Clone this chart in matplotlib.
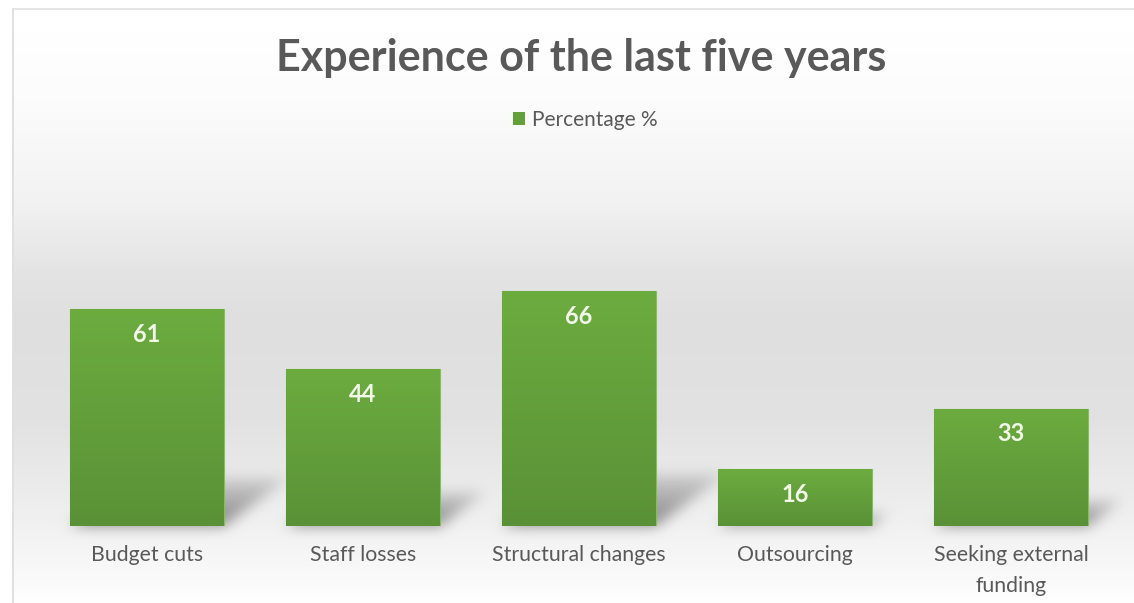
import numpy as np
import matplotlib
matplotlib.use("Agg")
import matplotlib.pyplot as plt
from matplotlib.path import Path
from matplotlib.colors import LinearSegmentedColormap
from matplotlib.patches import Patch

# ---- data -------------------------------------------------------------
categories = ["Budget cuts", "Staff losses", "Structural changes",
              "Outsourcing", "Seeking external\nfunding"]
percentages = [61, 44, 66, 16, 33]
series_name = "Percentage %"
chart_title = "Experience of the last five years"

# ---- figure -----------------------------------------------------------
W, H, DPI = 1134, 603, 100
plt.rcParams['font.family'] = ['Lato', 'DejaVu Sans']
TEXT = '#595959'

fig = plt.figure(figsize=(W / DPI, H / DPI), dpi=DPI)
fig.patch.set_facecolor('white')

# background axes in pixel units (origin bottom-left)
bg = fig.add_axes([0, 0, 1, 1], zorder=0)
bg.set_xlim(0, W)
bg.set_ylim(0, H)
bg.axis('off')

# main plotting axes
ax = fig.add_axes([39 / W, 77 / H, 1080 / W, 249 / H], zorder=2)
ax.patch.set_alpha(0)
x = np.arange(len(categories))
green_mid = '#63a03a'
bars = ax.bar(x, percentages, width=0.71, color=green_mid,
              edgecolor='#84bf5a', linewidth=0.8, zorder=2)

# vertical gradient fill on each bar (lighter at the top)
grad = np.linspace(0, 1, 256).reshape(-1, 1)
gcmap = LinearSegmentedColormap.from_list('bar', ['#5a9137', '#6cac3f'])
for rect in bars:
    x0, w, h = rect.get_x(), rect.get_width(), rect.get_height()
    im = ax.imshow(grad, extent=[x0, x0 + w, 0, h], origin='lower',
                   cmap=gcmap, aspect='auto', zorder=2.1)
    im.set_clip_path(rect)

ax.set_xlim(-0.5, len(categories) - 0.5)
ax.set_ylim(0, 70)
for s in ax.spines.values():
    s.set_visible(False)
ax.set_yticks([])
ax.set_xticks(x, categories)
ax.tick_params(axis='x', length=0, pad=14, labelsize=15.3, labelcolor=TEXT)
for lbl in ax.get_xticklabels():
    lbl.set_linespacing(1.65)

# value labels inside the bars
for rect, v in zip(bars, percentages):
    ax.annotate(f"{v}", (rect.get_x() + rect.get_width() / 2, v),
                xytext=(0, -25), textcoords='offset pixels',
                ha='center', va='center', fontsize=17, fontweight='bold',
                color='#f1f8e9', zorder=3)

# ---- background: soft vertical gradient plus perspective bar shadows ----
rows_from_top = H - 1 - np.arange(H)
stop_y = [0, 30, 100, 200, 270, 320, 420, 520, 590, 603]
stop_v = [255, 255, 252, 242, 228, 223, 226, 240, 252, 255]
col = np.interp(rows_from_top, stop_y, stop_v) / 255.0
img = np.repeat(col[:, None], W, axis=1)

yy, xx = np.mgrid[0:H, 0:W]
pts = np.c_[xx.ravel() + 0.5, yy.ravel() + 0.5]
shadow = np.zeros((H, W))
for rect in bars:
    xl, yb = ax.transData.transform((rect.get_x(), 0))
    xr, yt = ax.transData.transform((rect.get_x() + rect.get_width(),
                                     rect.get_height()))
    hp = yt - yb
    dx, dy = 0.30 * hp, 0.22 * hp
    poly = Path([(xl, yb), (xr, yb), (xr + dx, yb + dy), (xl + dx, yb + dy),
                 (xl, yb)])
    inside = poly.contains_points(pts).reshape(H, W)
    frac = np.clip((yy + 0.5 - yb) / max(dy, 1), 0, 1)
    shadow = np.maximum(shadow, inside * (1 - 0.75 * frac))


def box_blur(a, r):
    k = np.ones(2 * r + 1) / (2 * r + 1)
    a = np.apply_along_axis(lambda m: np.convolve(m, k, mode='same'), 0, a)
    a = np.apply_along_axis(lambda m: np.convolve(m, k, mode='same'), 1, a)
    return a


for _ in range(3):
    shadow = box_blur(shadow, 6)
img = img * (1 - 0.45 * shadow)

# outer frame: white margin with thin light-grey border
img[rows_from_top < 8, :] = 1.0
img[:, :12] = 1.0
img[(rows_from_top >= 8) & (rows_from_top < 10), 12:] = 0.90
img[rows_from_top >= 8, 12:14] = 0.88

bg.imshow(np.dstack([img] * 3), extent=[0, W, 0, H], origin='lower',
          aspect='auto', interpolation='bilinear', zorder=0)
bg.set_xlim(0, W)
bg.set_ylim(0, H)

# ---- title and legend --------------------------------------------------
fig.text(581 / W, 1 - 71 / H, chart_title, ha='center', va='baseline',
         fontsize=31, fontweight='bold', color=TEXT)

fig.legend(handles=[Patch(facecolor=green_mid, label=series_name)],
           loc='center', bbox_to_anchor=(585 / W, 1 - 120 / H),
           frameon=False, fontsize=15, labelcolor=TEXT,
           handlelength=0.6, handleheight=0.6, handletextpad=0.3)

fig.savefig('out.png', dpi=DPI)
